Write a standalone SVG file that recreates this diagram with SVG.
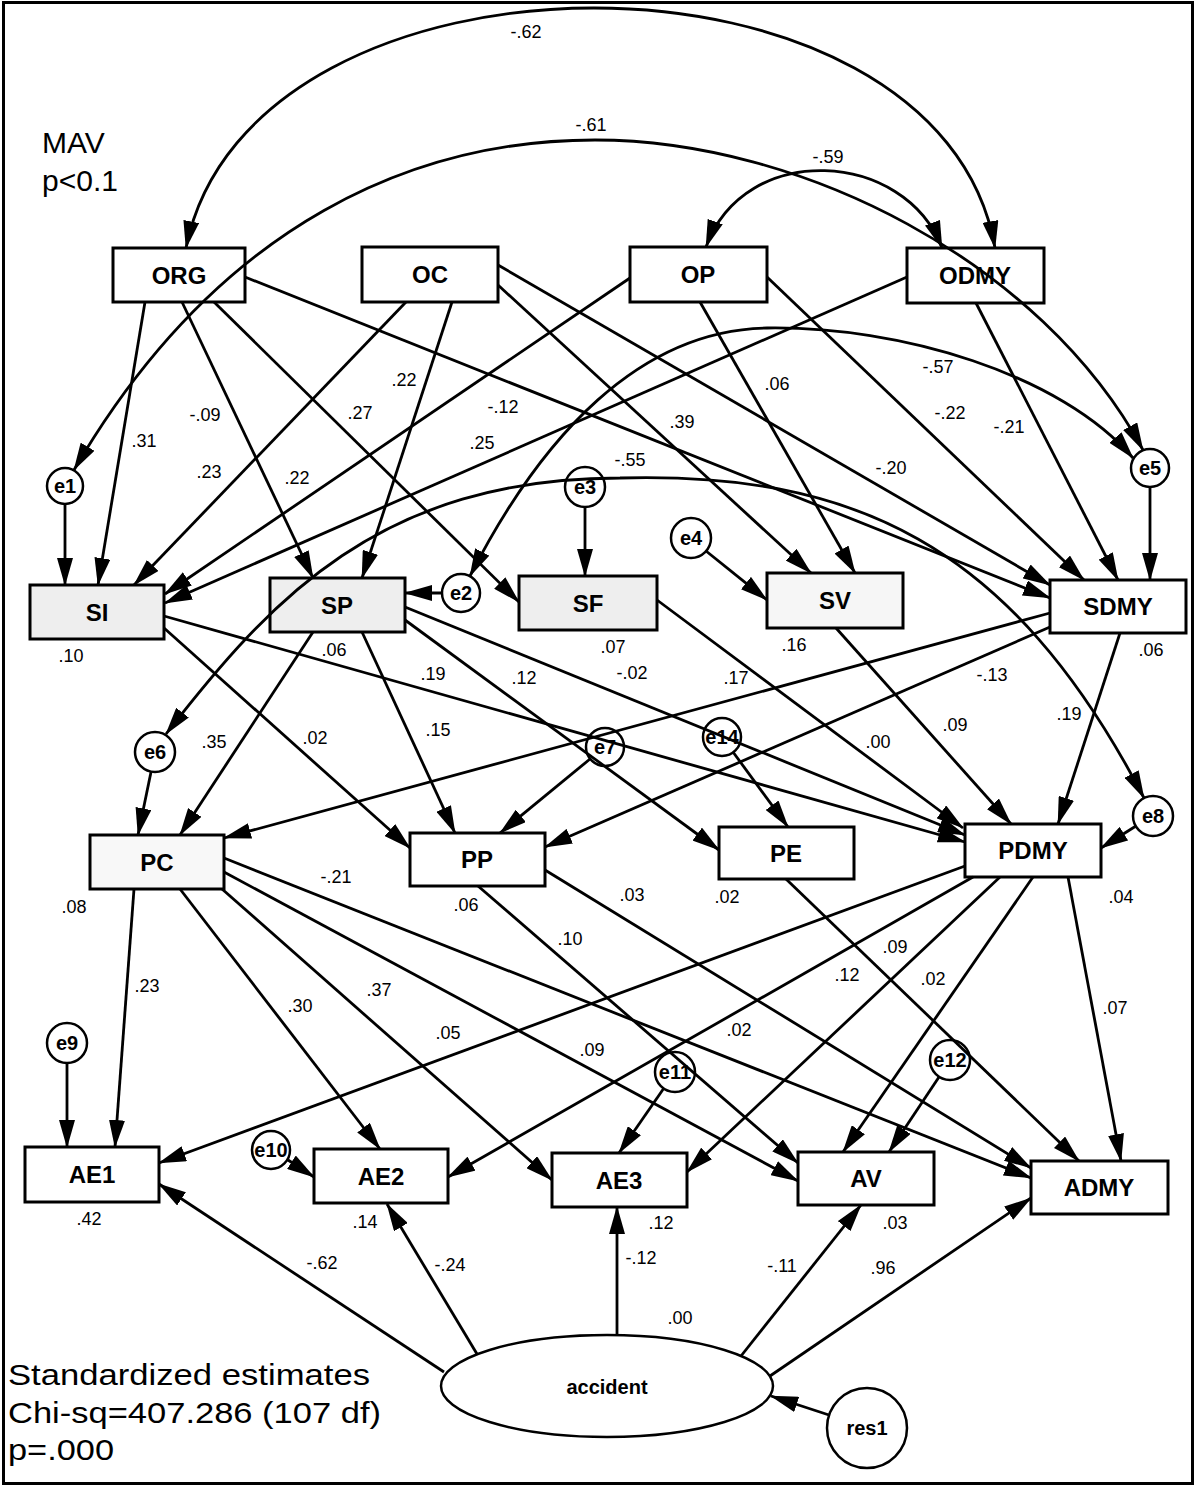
<svg xmlns="http://www.w3.org/2000/svg" width="1196" height="1486" viewBox="0 0 1196 1486">
<style>
.bx{fill:#fff;stroke:#000;stroke-width:3}
.sh{fill:#eeeeee}
.ci{fill:#fff;stroke:#000;stroke-width:2.5}
.nt{font-family:"Liberation Sans",Arial,sans-serif;font-size:24px;font-weight:bold;text-anchor:middle}
.et{font-family:"Liberation Sans",Arial,sans-serif;font-size:20px;font-weight:bold;text-anchor:middle}
.c{fill:none;stroke:#000;stroke-width:2.8;marker-end:url(#ah)}
.cv{fill:none;stroke:#000;stroke-width:2.8;marker-start:url(#ah);marker-end:url(#ah)}
.lb{font-family:"Liberation Sans",Arial,sans-serif;font-size:18px;text-anchor:middle}
.big{font-family:"Liberation Sans",Arial,sans-serif;font-size:30px}
</style>
<defs>
<marker id="ah" viewBox="0 0 28 16" refX="27" refY="8" markerWidth="28" markerHeight="16" markerUnits="userSpaceOnUse" orient="auto-start-reverse">
<path d="M0,0 L28,8 L0,16 z" fill="#000"/>
</marker>
</defs>
<rect x="3.5" y="2.5" width="1189" height="1481" fill="#fff" stroke="#000" stroke-width="3"/>

<g id="ORG"><rect class="bx" x="113" y="248" width="132" height="54"/><text class="nt" x="179" y="284">ORG</text></g>
<g id="OC"><rect class="bx" x="362" y="247" width="136" height="55"/><text class="nt" x="430" y="283">OC</text></g>
<g id="OP"><rect class="bx" x="630" y="247" width="137" height="55"/><text class="nt" x="698" y="283">OP</text></g>
<g id="ODMY"><rect class="bx" x="907" y="248" width="137" height="55"/><text class="nt" x="975" y="284">ODMY</text></g>
<g id="SI"><rect class="bx sh" x="30" y="585" width="134" height="54"/><text class="nt" x="97" y="621">SI</text></g>
<g id="SP"><rect class="bx sh" x="270" y="578" width="135" height="54"/><text class="nt" x="337" y="614">SP</text></g>
<g id="SF"><rect class="bx sh" x="519" y="576" width="138" height="54"/><text class="nt" x="588" y="612">SF</text></g>
<g id="SV"><rect class="bx" x="767" y="573" width="136" height="55" style="fill:#f6f6f6"/><text class="nt" x="835" y="609">SV</text></g>
<g id="SDMY"><rect class="bx" x="1050" y="580" width="136" height="53"/><text class="nt" x="1118" y="615">SDMY</text></g>
<g id="PC"><rect class="bx" x="90" y="835" width="134" height="54" style="fill:#f8f8f8"/><text class="nt" x="157" y="871">PC</text></g>
<g id="PP"><rect class="bx" x="410" y="833" width="135" height="53"/><text class="nt" x="477" y="868">PP</text></g>
<g id="PE"><rect class="bx" x="719" y="827" width="135" height="52"/><text class="nt" x="786" y="862">PE</text></g>
<g id="PDMY"><rect class="bx" x="965" y="824" width="136" height="53"/><text class="nt" x="1033" y="859">PDMY</text></g>
<g id="AE1"><rect class="bx" x="25" y="1147" width="134" height="55"/><text class="nt" x="92" y="1183">AE1</text></g>
<g id="AE2"><rect class="bx" x="314" y="1149" width="134" height="54"/><text class="nt" x="381" y="1185">AE2</text></g>
<g id="AE3"><rect class="bx" x="552" y="1153" width="135" height="54"/><text class="nt" x="619" y="1189">AE3</text></g>
<g id="AV"><rect class="bx" x="798" y="1152" width="136" height="53"/><text class="nt" x="866" y="1187">AV</text></g>
<g id="ADMY"><rect class="bx" x="1031" y="1161" width="137" height="53"/><text class="nt" x="1099" y="1196">ADMY</text></g>
<g id="e1"><circle class="ci" cx="65" cy="486" r="18"/><text class="et" x="65" y="493">e1</text></g>
<g id="e2"><circle class="ci" cx="461" cy="593" r="19"/><text class="et" x="461" y="600">e2</text></g>
<g id="e3"><circle class="ci" cx="585" cy="487" r="20"/><text class="et" x="585" y="494">e3</text></g>
<g id="e4"><circle class="ci" cx="691" cy="538" r="20"/><text class="et" x="691" y="545">e4</text></g>
<g id="e5"><circle class="ci" cx="1150" cy="468" r="19"/><text class="et" x="1150" y="475">e5</text></g>
<g id="e6"><circle class="ci" cx="155" cy="752" r="20"/><text class="et" x="155" y="759">e6</text></g>
<g id="e7"><circle class="ci" cx="605" cy="747" r="19"/><text class="et" x="605" y="754">e7</text></g>
<g id="e14"><circle class="ci" cx="722" cy="737" r="19"/><text class="et" x="722" y="744">e14</text></g>
<g id="e8"><circle class="ci" cx="1153" cy="816" r="20"/><text class="et" x="1153" y="823">e8</text></g>
<g id="e9"><circle class="ci" cx="67" cy="1043" r="20"/><text class="et" x="67" y="1050">e9</text></g>
<g id="e10"><circle class="ci" cx="271" cy="1150" r="19"/><text class="et" x="271" y="1157">e10</text></g>
<g id="e11"><circle class="ci" cx="675" cy="1072" r="20"/><text class="et" x="675" y="1079">e11</text></g>
<g id="e12"><circle class="ci" cx="950" cy="1060" r="20"/><text class="et" x="950" y="1067">e12</text></g>
<g id="accident"><ellipse class="ci" cx="607" cy="1386" rx="166" ry="51"/><text class="et" x="607" y="1394">accident</text></g>
<g id="res1"><circle class="ci" cx="867" cy="1428" r="40"/><text class="et" x="867" y="1435">res1</text></g>

<g id="connectors">
<path class="cv" d="M186,248 C250,-72 940,-72 995,248"/>
<path class="cv" d="M74,470 C221,218 420,140 595,140 C800,140 1041,261 1143,450"/>
<path class="cv" d="M706,247 C745,140 905,150 942,248"/>
<path class="cv" d="M470,576 C542,435 640,330 767,328 C900,326 1061,374 1133,458"/>
<path class="cv" d="M166,734 C270,600 380,478 620,478 C850,472 1010,540 1144,798"/>
<path class="c" d="M65,504 L65,585"/>
<path class="c" d="M145,302 L98,585"/>
<path class="c" d="M406,302 L134,585"/>
<path class="c" d="M630,278 L165,594"/>
<path class="c" d="M907,277 L165,603"/>
<path class="c" d="M182,302 L313,578"/>
<path class="c" d="M452,302 L362,578"/>
<path class="c" d="M442,593 L405,593"/>
<path class="c" d="M214,302 L519,602"/>
<path class="c" d="M585,507 L585,576"/>
<path class="c" d="M498,285 L811,573"/>
<path class="c" d="M700,302 L855,573"/>
<path class="c" d="M706,551 L767,600"/>
<path class="c" d="M245,277 L1050,598"/>
<path class="c" d="M498,265 L1050,585"/>
<path class="c" d="M767,277 L1084,580"/>
<path class="c" d="M976,303 L1118,580"/>
<path class="c" d="M1150,487 L1150,580"/>
<path class="c" d="M164,628 L410,848"/>
<path class="c" d="M164,616 L965,842"/>
<path class="c" d="M313,632 L180,835"/>
<path class="c" d="M362,632 L455,833"/>
<path class="c" d="M405,620 L719,850"/>
<path class="c" d="M405,607 L965,835"/>
<path class="c" d="M657,600 L963,828"/>
<path class="c" d="M836,628 L1011,824"/>
<path class="c" d="M1050,613 L224,838"/>
<path class="c" d="M1050,627 L545,847"/>
<path class="c" d="M1120,633 L1058,824"/>
<path class="c" d="M151,772 L138,835"/>
<path class="c" d="M590,759 L500,833"/>
<path class="c" d="M733,752 L788,827"/>
<path class="c" d="M1136,826 L1101,848"/>
<path class="c" d="M134,889 L115,1147"/>
<path class="c" d="M180,889 L380,1149"/>
<path class="c" d="M222,889 L552,1180"/>
<path class="c" d="M224,872 L798,1181"/>
<path class="c" d="M224,858 L1031,1178"/>
<path class="c" d="M478,886 L798,1163"/>
<path class="c" d="M545,870 L1031,1168"/>
<path class="c" d="M786,879 L1079,1161"/>
<path class="c" d="M965,866 L159,1163"/>
<path class="c" d="M973,877 L448,1177"/>
<path class="c" d="M1000,877 L687,1172"/>
<path class="c" d="M1033,877 L843,1152"/>
<path class="c" d="M1068,877 L1121,1161"/>
<path class="c" d="M67,1063 L67,1147"/>
<path class="c" d="M288,1160 L314,1177"/>
<path class="c" d="M664,1088 L619,1153"/>
<path class="c" d="M939,1077 L889,1152"/>
<path class="c" d="M444,1372 L159,1184"/>
<path class="c" d="M477,1354 L387,1204"/>
<path class="c" d="M617,1335 L617,1207"/>
<path class="c" d="M741,1356 L861,1205"/>
<path class="c" d="M770,1376 L1031,1198"/>
<path class="c" d="M829,1415 L771,1396"/>
</g>

<g id="labels">
<text class="lb" x="526" y="38">-.62</text>
<text class="lb" x="591" y="131">-.61</text>
<text class="lb" x="828" y="163">-.59</text>
<text class="lb" x="144" y="447">.31</text>
<text class="lb" x="205" y="421">-.09</text>
<text class="lb" x="209" y="478">.23</text>
<text class="lb" x="297" y="484">.22</text>
<text class="lb" x="360" y="419">.27</text>
<text class="lb" x="404" y="386">.22</text>
<text class="lb" x="503" y="413">-.12</text>
<text class="lb" x="482" y="449">.25</text>
<text class="lb" x="682" y="428">.39</text>
<text class="lb" x="777" y="390">.06</text>
<text class="lb" x="938" y="373">-.57</text>
<text class="lb" x="950" y="419">-.22</text>
<text class="lb" x="1009" y="433">-.21</text>
<text class="lb" x="891" y="474">-.20</text>
<text class="lb" x="630" y="466">-.55</text>
<text class="lb" x="71" y="662">.10</text>
<text class="lb" x="334" y="656">.06</text>
<text class="lb" x="613" y="653">.07</text>
<text class="lb" x="794" y="651">.16</text>
<text class="lb" x="1151" y="656">.06</text>
<text class="lb" x="433" y="680">.19</text>
<text class="lb" x="524" y="684">.12</text>
<text class="lb" x="632" y="679">-.02</text>
<text class="lb" x="736" y="684">.17</text>
<text class="lb" x="992" y="681">-.13</text>
<text class="lb" x="214" y="748">.35</text>
<text class="lb" x="315" y="744">.02</text>
<text class="lb" x="438" y="736">.15</text>
<text class="lb" x="878" y="748">.00</text>
<text class="lb" x="955" y="731">.09</text>
<text class="lb" x="1069" y="720">.19</text>
<text class="lb" x="336" y="883">-.21</text>
<text class="lb" x="74" y="913">.08</text>
<text class="lb" x="466" y="911">.06</text>
<text class="lb" x="632" y="901">.03</text>
<text class="lb" x="727" y="903">.02</text>
<text class="lb" x="1121" y="903">.04</text>
<text class="lb" x="570" y="945">.10</text>
<text class="lb" x="895" y="953">.09</text>
<text class="lb" x="847" y="981">.12</text>
<text class="lb" x="933" y="985">.02</text>
<text class="lb" x="147" y="992">.23</text>
<text class="lb" x="300" y="1012">.30</text>
<text class="lb" x="379" y="996">.37</text>
<text class="lb" x="448" y="1039">.05</text>
<text class="lb" x="592" y="1056">.09</text>
<text class="lb" x="739" y="1036">.02</text>
<text class="lb" x="1115" y="1014">.07</text>
<text class="lb" x="89" y="1225">.42</text>
<text class="lb" x="365" y="1228">.14</text>
<text class="lb" x="661" y="1229">.12</text>
<text class="lb" x="895" y="1229">.03</text>
<text class="lb" x="322" y="1269">-.62</text>
<text class="lb" x="450" y="1271">-.24</text>
<text class="lb" x="641" y="1264">-.12</text>
<text class="lb" x="782" y="1272">-.11</text>
<text class="lb" x="883" y="1274">.96</text>
<text class="lb" x="680" y="1324">.00</text>
</g>

<g id="notes">
<text class="big" x="42" y="153">MAV</text>
<text class="big" x="42" y="191">p&lt;0.1</text>
<text class="big" x="8" y="1385" textLength="362" lengthAdjust="spacingAndGlyphs">Standardized estimates</text>
<text class="big" x="8" y="1423" textLength="373" lengthAdjust="spacingAndGlyphs">Chi-sq=407.286 (107 df)</text>
<text class="big" x="8" y="1460" textLength="106" lengthAdjust="spacingAndGlyphs">p=.000</text>
</g>
</svg>
